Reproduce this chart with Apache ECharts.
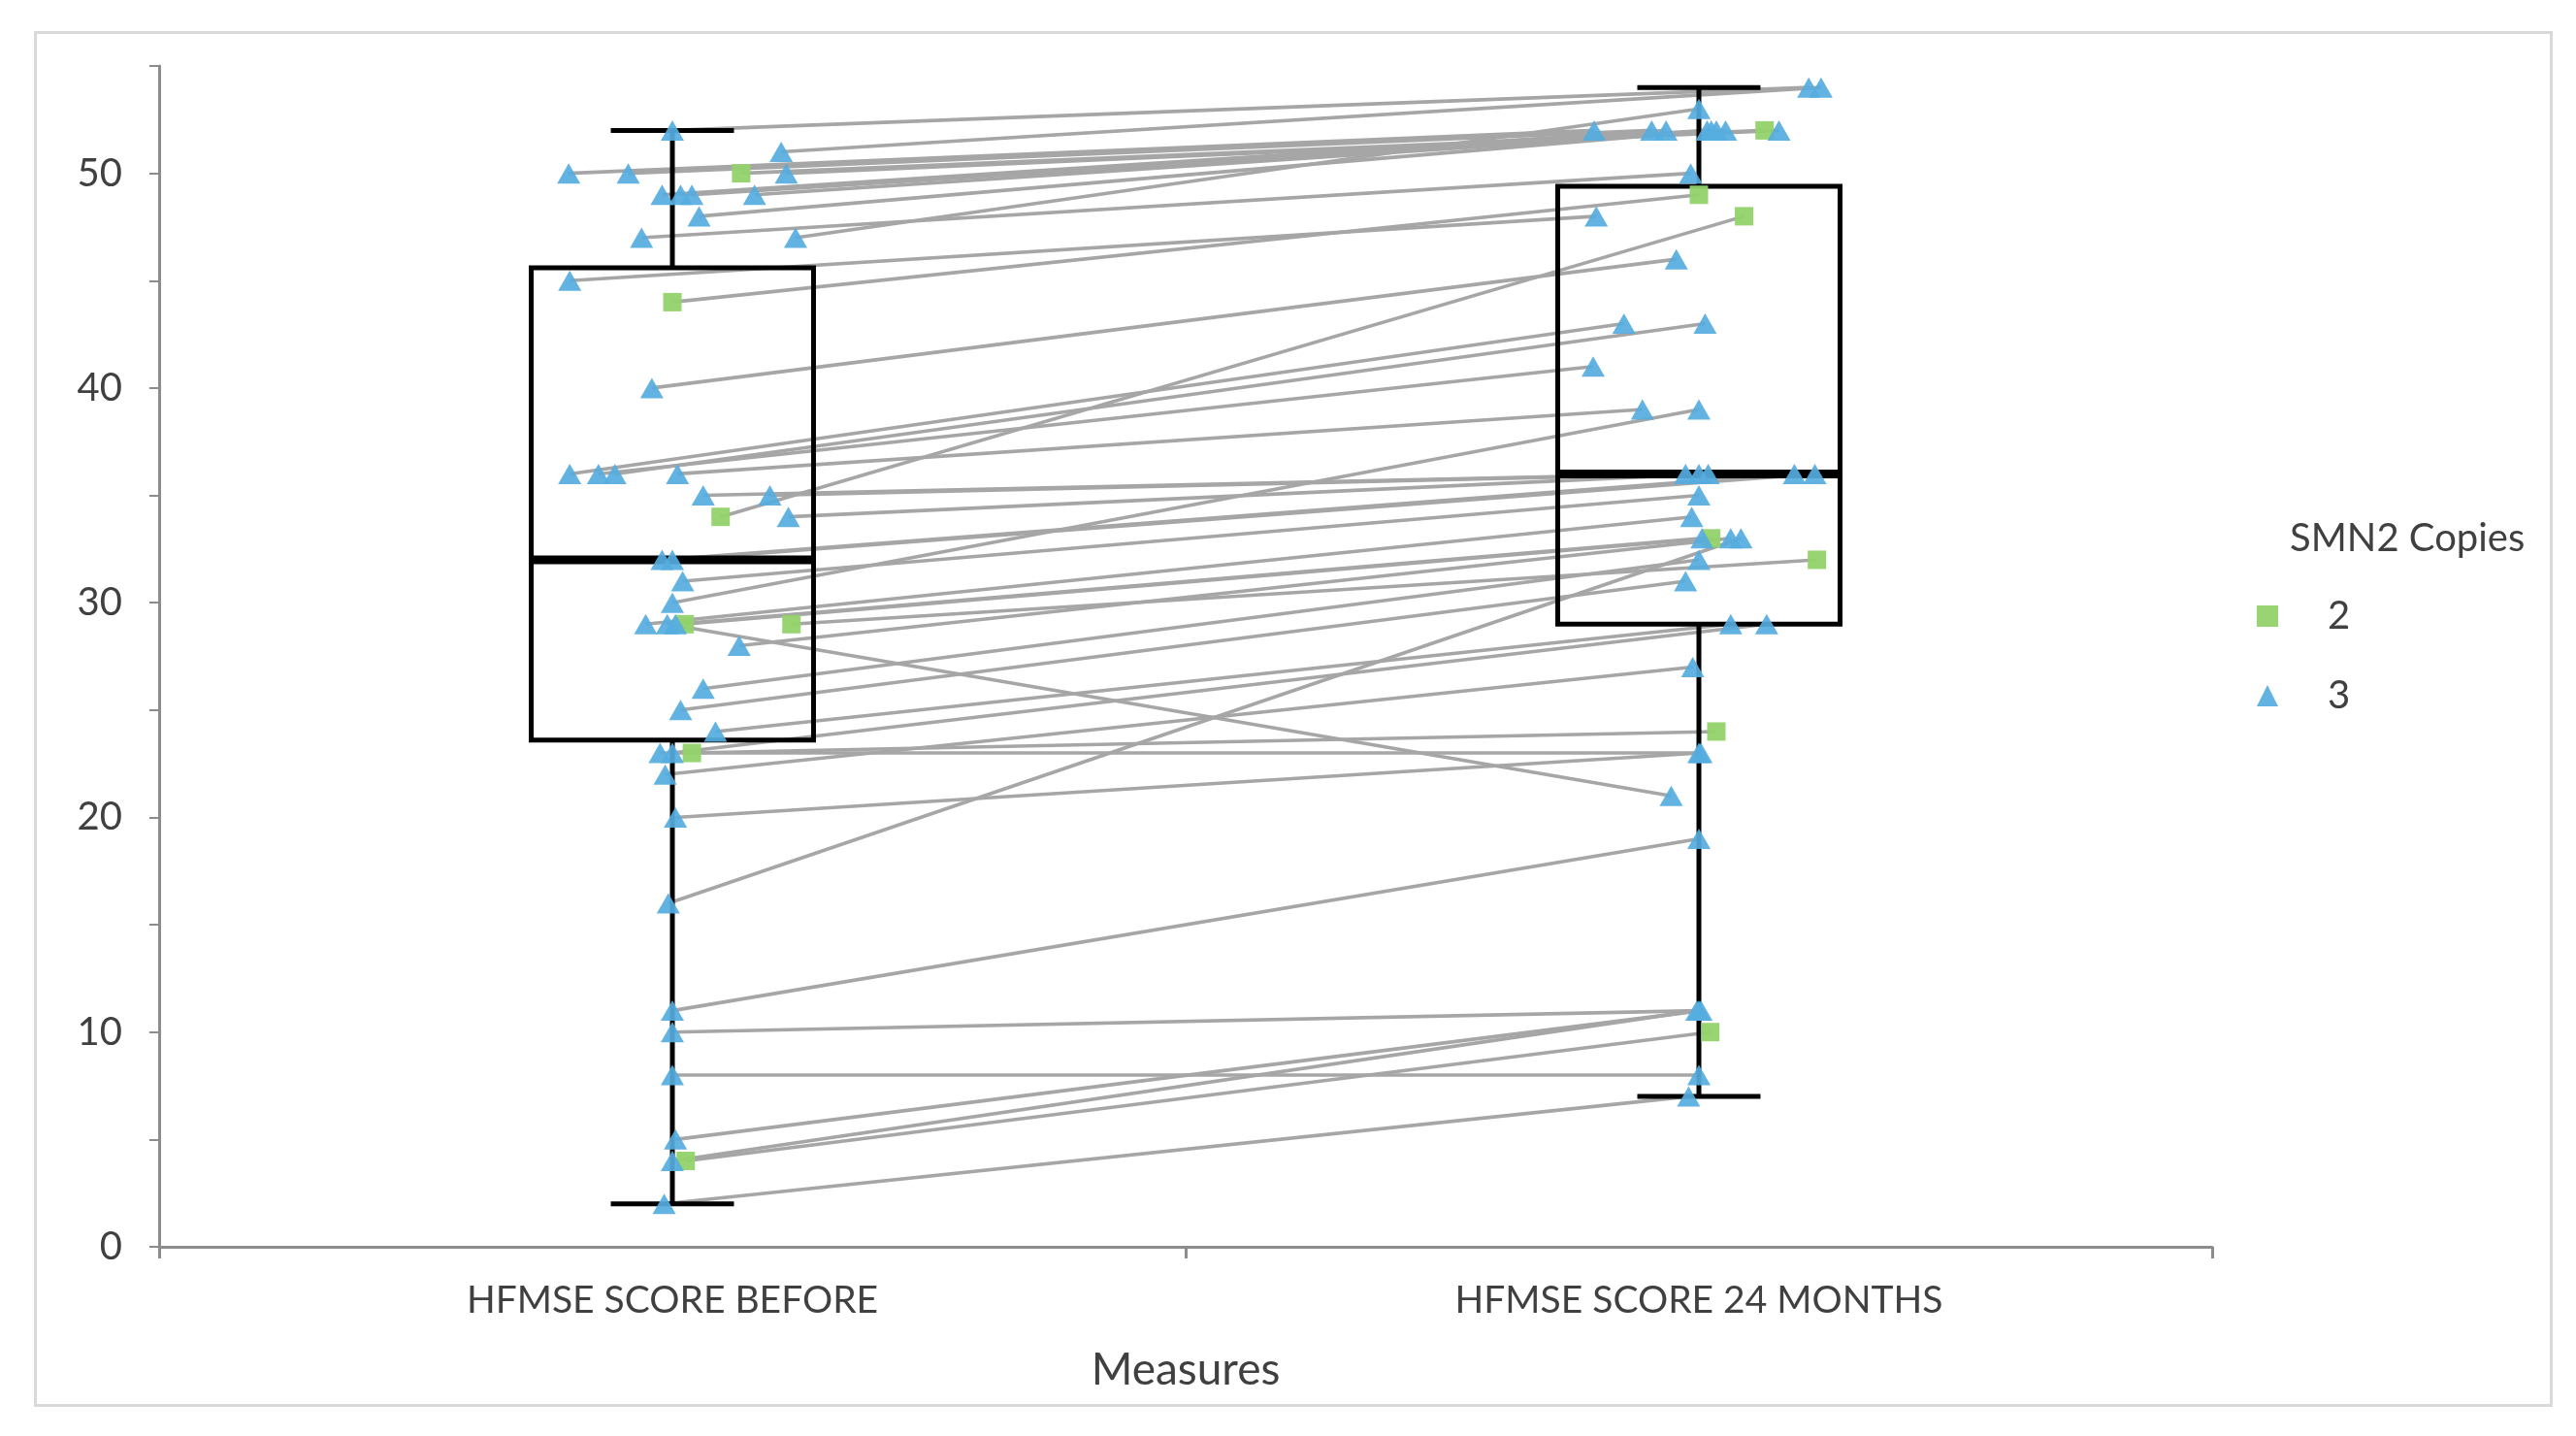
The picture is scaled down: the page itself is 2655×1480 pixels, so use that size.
<!DOCTYPE html>
<html>
<head>
<meta charset="utf-8">
<script src="https://cdn.jsdelivr.net/npm/echarts@6/dist/echarts.min.js"></script>
<style>
html,body{margin:0;padding:0;background:#ffffff;}
#chart{width:2655px;height:1480px;}
</style>
</head>
<body>
<div id="chart"></div>
<script>
// ---- Data ----
const categories = ['HFMSE SCORE BEFORE', 'HFMSE SCORE 24 MONTHS'];
const copyGroups = ['2', '3'];

// one entry per patient
const smn2Copies = [3,3,3,3,3,3,3,3,3,3, 3,3,3,3,3,3,3,3,3,3, 3,3,3,3,3,3,3,3,3,3, 3,3,3,3,3,3,3,3,3,3, 3,3,3, 2,2,2,2,2,2,2];
const scoreBefore = [52,51,50,50,50,49,49,49,49,48, 47,47,45,40,36,36,36,36,35,35, 34,32,32,31,30,29,29,29,28,26, 25,24,23,23,22,20,16,11,10,8, 5,4,2, 50,44,34,29,29,23,4];
const score24Months = [54,54,52,52,52,52,52,52,52,52, 50,53,48,46,43,41,43,39,36,36, 36,36,36,35,39,34,21,33,33,32, 31,29,23,29,27,23,33,19,11,8, 11,11,7, 52,49,48,33,32,24,10];
// horizontal jitter of each marker inside its category (category widths)
const jitterBefore = [0,0.106,-0.101,-0.043,0.111,-0.01,0.008,0.019,0.08,0.026, -0.03,0.12,-0.1,-0.02,-0.1,-0.072,-0.056,0.005,0.03,0.095, 0.113,-0.01,0,0.01,0,-0.026,-0.005,0.003,0.065,0.03, 0.008,0.042,-0.012,0,-0.007,0.003,-0.004,0,0,0, 0.003,0,-0.008, 0.067,0,0.047,0.012,0.116,0.019,0.013];
const jitter24Months = [0.107,0.119,-0.102,-0.046,0.078,-0.032,0.008,0.017,0.026,0.012, -0.008,0,-0.1,-0.022,-0.073,-0.103,0.006,-0.055,-0.013,0, 0.009,0.093,0.113,0,0,-0.007,-0.027,0.003,0.031,0, -0.013,0.031,0,0.066,-0.006,0.002,0.041,0,0,0, 0.002,-0.002,-0.01, 0.064,0,0.044,0.012,0.115,0.017,0.011];

// box plot statistics
const boxMin    = [2, 7];
const boxQ1     = [23.6, 29.0];
const boxMedian = [32, 36];
const boxQ3     = [45.6, 49.4];
const boxMax    = [52, 54];

const yMin = 0, yMax = 55, yStep = 5, yLabelStep = 10;

// ---- build library structures ----
const boxData = categories.map((c, i) => [i, boxMin[i], boxQ1[i], boxMedian[i], boxQ3[i], boxMax[i]]);
const pairLines = scoreBefore.map((b, i) => ({
  coords: [[0.5 + jitterBefore[i], b], [1.5 + jitter24Months[i], score24Months[i]]]
}));
function pointsFor(copy) {
  const pts = [];
  smn2Copies.forEach((c, i) => {
    if (String(c) === copy) {
      pts.push([0.5 + jitterBefore[i], scoreBefore[i]]);
      pts.push([1.5 + jitter24Months[i], score24Months[i]]);
    }
  });
  return pts;
}

const FONT = 'Lato, "Open Sans", sans-serif';
const chart = echarts.init(document.getElementById('chart'), null, {renderer: 'canvas'});
chart.setOption({
  animation: false,
  backgroundColor: '#ffffff',
  textStyle: {fontFamily: FONT},
  graphic: [{
    type: 'rect', left: 34, top: 31, z: -10,
    shape: {width: 2593, height: 1415},
    style: {fill: 'none', stroke: '#d9d9d9', lineWidth: 3}
  }],
  title: {
    text: 'SMN2 Copies', left: 2355, top: 530,
    textStyle: {fontFamily: FONT, fontSize: 40, fontWeight: 'normal', color: '#404040'}
  },
  legend: {
    data: copyGroups, orient: 'vertical', left: 2321, top: 610,
    itemWidth: 22, itemHeight: 22, itemGap: 42, selectedMode: false,
    textStyle: {fontFamily: FONT, fontSize: 40, color: '#404040', padding: [0, 0, 0, 46]}
  },
  grid: {left: 164, right: 375, top: 68, bottom: 195, containLabel: false},
  xAxis: [{
    type: 'category', data: categories, boundaryGap: true,
    axisLine: {lineStyle: {color: '#8c8c8c', width: 3}},
    axisTick: {show: true, length: 12, lineStyle: {color: '#8c8c8c', width: 3}},
    axisLabel: {fontFamily: FONT, fontSize: 39, color: '#404040', margin: 36},
    name: 'Measures', nameLocation: 'middle', nameGap: 104,
    nameTextStyle: {fontFamily: FONT, fontSize: 46, color: '#404040'}
  }, {
    type: 'value', min: 0, max: 2, show: false
  }],
  yAxis: {
    type: 'value', min: yMin, max: yMax, interval: yStep,
    axisLine: {show: true, lineStyle: {color: '#8c8c8c', width: 3}},
    axisTick: {show: true, length: 10, lineStyle: {color: '#8c8c8c', width: 2}},
    splitLine: {show: false},
    axisLabel: {
      fontFamily: FONT, fontSize: 40, color: '#404040', margin: 38,
      formatter: v => (v % yLabelStep === 0 && v < yMax) ? String(v) : ''
    }
  },
  series: [{
    type: 'lines', coordinateSystem: 'cartesian2d', xAxisIndex: 1, yAxisIndex: 0,
    data: pairLines, z: 1, silent: true,
    lineStyle: {color: '#a6a6a6', width: 3.6, opacity: 1}
  }, {
    type: 'custom', xAxisIndex: 0, yAxisIndex: 0, z: 2, silent: true,
    data: boxData,
    encode: {x: 0, y: [1, 2, 3, 4, 5]},
    renderItem: function (params, api) {
      const i = api.value(0);
      const band = api.size([1, 0])[0];
      const cx = api.coord([i, api.value(3)])[0];
      const yLo = api.coord([i, api.value(1)])[1];
      const yQ1 = api.coord([i, api.value(2)])[1];
      const yMd = api.coord([i, api.value(3)])[1];
      const yQ3 = api.coord([i, api.value(4)])[1];
      const yHi = api.coord([i, api.value(5)])[1];
      const hb = band * 0.1375, hc = band * 0.06;
      const ls = {stroke: '#000000', lineWidth: 5};
      return {type: 'group', children: [
        {type: 'line', shape: {x1: cx, y1: yLo, x2: cx, y2: yQ1}, style: ls},
        {type: 'line', shape: {x1: cx, y1: yQ3, x2: cx, y2: yHi}, style: ls},
        {type: 'line', shape: {x1: cx - hc, y1: yLo, x2: cx + hc, y2: yLo}, style: ls},
        {type: 'line', shape: {x1: cx - hc, y1: yHi, x2: cx + hc, y2: yHi}, style: ls},
        {type: 'rect', shape: {x: cx - hb, y: yQ3, width: 2 * hb, height: yQ1 - yQ3},
          style: {fill: 'none', stroke: '#000000', lineWidth: 5}},
        {type: 'line', shape: {x1: cx - hb - 2, y1: yMd, x2: cx + hb + 2, y2: yMd},
          style: {stroke: '#000000', lineWidth: 9}}
      ]};
    }
  }, {
    name: '2', type: 'scatter', xAxisIndex: 1, yAxisIndex: 0, z: 3,
    symbol: 'rect', symbolSize: 19,
    itemStyle: {color: '#92d36a', opacity: 0.95},
    data: pointsFor('2')
  }, {
    name: '3', type: 'scatter', xAxisIndex: 1, yAxisIndex: 0, z: 4,
    symbol: 'triangle', symbolSize: [24, 21],
    itemStyle: {color: '#55ade0', opacity: 0.92},
    data: pointsFor('3')
  }]
});
</script>
</body>
</html>
